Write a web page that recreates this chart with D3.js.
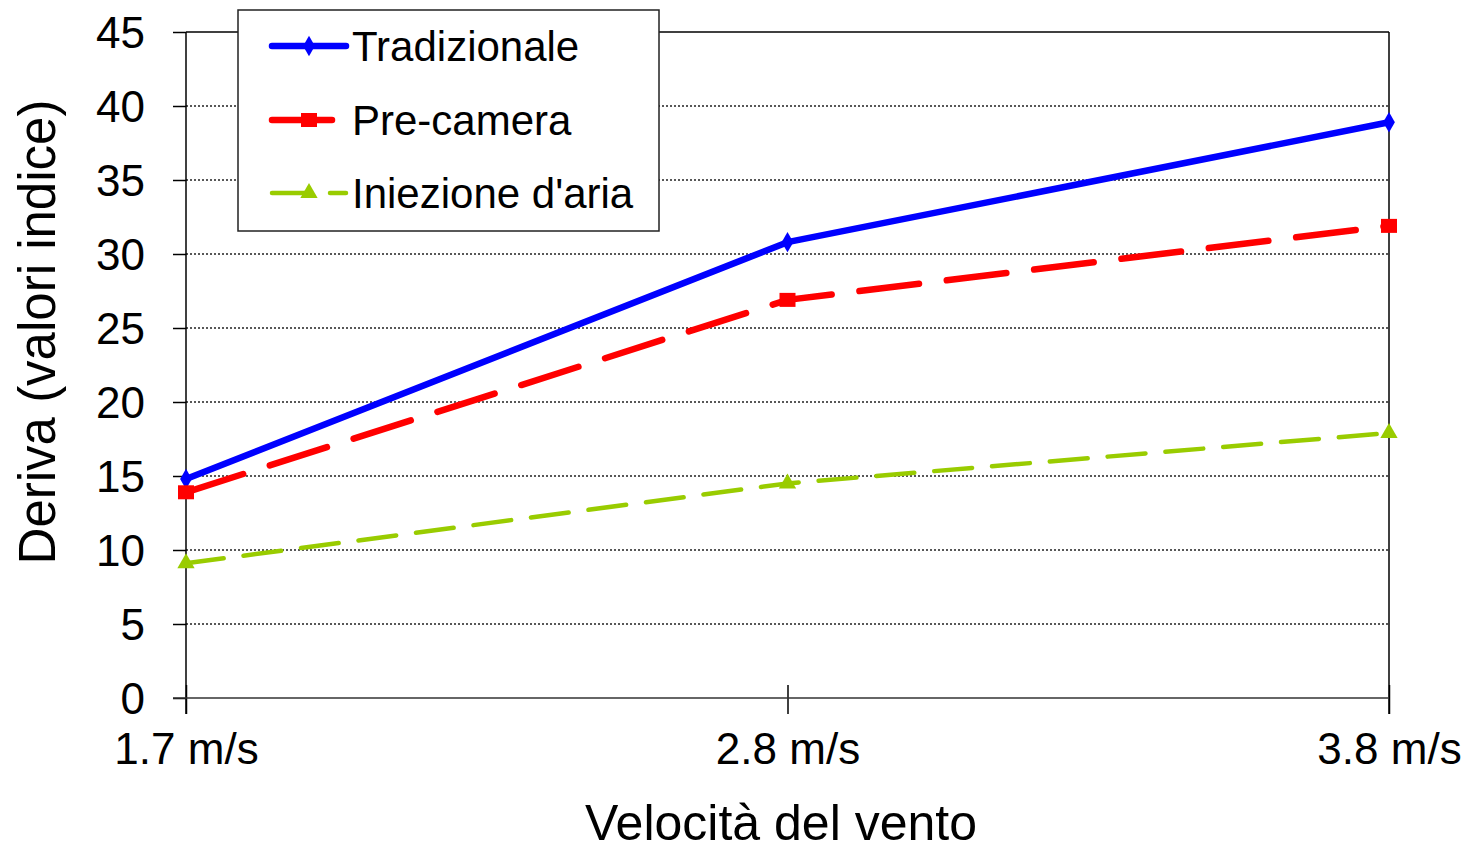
<!DOCTYPE html>
<html><head><meta charset="utf-8">
<script src="https://cdn.jsdelivr.net/npm/d3@7"></script>
<style>body{margin:0;background:#fff}svg{display:block;font-family:"Liberation Sans",Arial,sans-serif}</style>
</head><body><svg id="c" width="1466" height="850"></svg>
<script>
const categories = ["1.7 m/s", "2.8 m/s", "3.8 m/s"];
const tradizionale = [14.8, 30.8, 38.9];
const preCamera = [13.9, 26.9, 31.9];
const iniezione = [9.1, 14.5, 17.9];
const yTicks = [0, 5, 10, 15, 20, 25, 30, 35, 40, 45];
const seriesNames = ["Tradizionale", "Pre-camera", "Iniezione d'aria"];

const series = [
  {name: seriesNames[0], values: tradizionale, color: "#0000ff", width: 6.5, dash: null, marker: "diamond"},
  {name: seriesNames[1], values: preCamera, color: "#ff0000", width: 6.5, dash: "60,28", marker: "square"},
  {name: seriesNames[2], values: iniezione, color: "#99cc00", width: 4.5, dash: "38,20", marker: "triangle"}
];

const svg = d3.select("#c");
const L = 186, R = 1389, T = 32, B = 698;
const x = d3.scalePoint().domain(categories).range([L, R]);
const y = d3.scaleLinear().domain([0, 45]).range([B, T]);

// gridlines
svg.append("g").selectAll("line").data(yTicks.filter(d => d > 0 && d < 45)).join("line")
  .attr("x1", L).attr("x2", R).attr("y1", d => y(d)).attr("y2", d => y(d))
  .attr("stroke", "#222").attr("stroke-width", 1.3).attr("stroke-dasharray", "2,2");

// top border and right border
svg.append("line").attr("x1", L).attr("x2", R).attr("y1", y(45)).attr("y2", y(45)).attr("stroke", "#000").attr("stroke-width", 1.5);
svg.append("line").attr("x1", R).attr("x2", R).attr("y1", T).attr("y2", B + 16).attr("stroke", "#000").attr("stroke-width", 1.5);

// y axis
const yAxis = d3.axisLeft(y).tickValues(yTicks).tickSize(13).tickPadding(28);
const gy = svg.append("g").attr("transform", `translate(${L},0)`).call(yAxis);
gy.select(".domain").remove();
gy.append("line").attr("x1", 0).attr("x2", 0).attr("y1", T).attr("y2", B + 16).attr("stroke", "#000").attr("stroke-width", 1.5);
gy.selectAll(".tick line").attr("stroke", "#000").attr("stroke-width", 1.5);
gy.selectAll(".tick text").attr("font-size", 44).attr("fill", "#000").attr("dy", "0.35em")
  .attr("font-family", "'Liberation Sans', Arial, sans-serif");

// x axis
const xAxis = d3.axisBottom(x).tickSize(0).tickPadding(53);
const gx = svg.append("g").attr("transform", `translate(0,${B})`).call(xAxis);
gx.select(".domain").remove();
gx.append("line").attr("x1", L - 13).attr("x2", R).attr("y1", 0).attr("y2", 0).attr("stroke", "#333").attr("stroke-width", 1.5);
gx.selectAll(".tick").append("line").attr("y1", -13).attr("y2", 16).attr("stroke", "#000").attr("stroke-width", 1.5);
gx.selectAll(".tick text").attr("font-size", 44).attr("fill", "#000").attr("dy", "0.3em")
  .attr("font-family", "'Liberation Sans', Arial, sans-serif");

// axis titles
svg.append("text").attr("x", 781).attr("y", 840).attr("text-anchor", "middle")
  .attr("font-size", 50).text("Velocità del vento");
svg.append("text").attr("transform", "translate(55,332) rotate(-90)").attr("text-anchor", "middle")
  .attr("font-size", 51).text("Deriva (valori indice)");

// markers
function marker(g, type, color, cx, cy) {
  if (type === "diamond") {
    g.append("path").attr("d", d3.symbol(d3.symbolDiamond, 120)()).attr("transform", `translate(${cx},${cy})`).attr("fill", color);
  } else if (type === "square") {
    g.append("rect").attr("x", cx - 8).attr("y", cy - 7).attr("width", 16).attr("height", 14).attr("fill", color);
  } else {
    g.append("path").attr("d", d3.symbol(d3.symbolTriangle, 130)()).attr("transform", `translate(${cx},${cy})`).attr("fill", color);
  }
}

const line = d3.line().x((d, i) => x(categories[i])).y(d => y(d));
series.forEach(s => {
  const g = svg.append("g");
  g.append("path").datum(s.values).attr("d", line).attr("fill", "none")
    .attr("stroke", s.color).attr("stroke-width", s.width).attr("stroke-linecap", "round")
    .attr("stroke-linejoin", "round").attr("stroke-dasharray", s.dash);
  s.values.forEach((v, i) => marker(g, s.marker, s.color, x(categories[i]), y(v)));
});

// legend
const lg = svg.append("g");
lg.append("rect").attr("x", 238).attr("y", 10).attr("width", 421).attr("height", 221)
  .attr("fill", "#fff").attr("stroke", "#222").attr("stroke-width", 1.5);
const legY = [46, 120, 193];
series.forEach((s, i) => {
  lg.append("line").attr("x1", 272).attr("x2", 346).attr("y1", legY[i]).attr("y2", legY[i])
    .attr("stroke", s.color).attr("stroke-width", s.width).attr("stroke-linecap", "round")
    .attr("stroke-dasharray", i === 0 ? null : (i === 1 ? "60,28" : "38,20"));
  marker(lg, s.marker, s.color, 309, legY[i]);
  lg.append("text").attr("x", 352).attr("y", legY[i]).attr("dy", "0.35em").attr("font-size", 42).text(s.name);
});
</script>
</body></html>
